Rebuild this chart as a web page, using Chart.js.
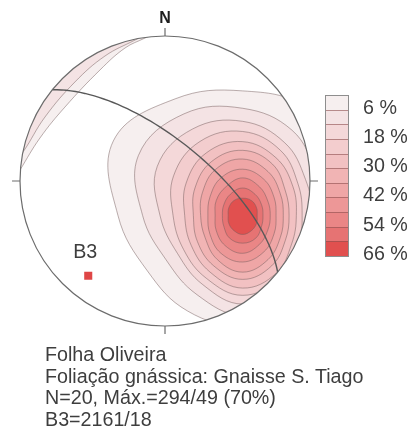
<!DOCTYPE html>
<html>
<head>
<meta charset="utf-8">
<script src="https://cdn.jsdelivr.net/npm/chart.js@4.4.1/dist/chart.umd.min.js"></script>
<style>
  body { margin: 0; background: #fff; }
  #wrap { position: relative; width: 412px; height: 433px; font-family: "Liberation Sans", Arial, sans-serif; color: #3e3e3e; }
  #net { position: absolute; left: 0; top: 0; }
  #legbox { position: absolute; left: 325px; top: 95px; width: 24px; height: 162px; box-sizing: border-box;
            border: 1px solid #8e8e8e; display: flex; flex-direction: column; }
  #legbox div { flex: 1; }
  #legbox div.sep { border-top: 1px solid rgba(140, 80, 80, 0.6); }
  .leglbl { position: absolute; left: 363px; font-size: 19.7px; line-height: 22px; white-space: nowrap; }
  #caption { position: absolute; left: 45px; top: 344px; font-size: 19.7px; line-height: 21.7px; white-space: nowrap; }
</style>
</head>
<body>
<div id="wrap">
  <canvas id="net" width="412" height="433"></canvas>
  <div id="legbox"></div>
  <div id="caption">Folha Oliveira<br>Foliação gnássica: Gnaisse S. Tiago<br>N=20, Máx.=294/49 (70%)<br>B3=2161/18</div>
</div>
<script>
// Contour levels (% por 1% de area) e cores da escala
const levels = [6, 12, 18, 24, 30, 36, 42, 48, 54, 60, 66];
const levelColors = ["#f6efef", "#f4e3e4", "#f4d8d9", "#f3cdce", "#f2c1c2", "#f1b4b4",
                     "#efa6a6", "#ed9797", "#ea8686", "#e67373", "#e1504f"];
const legendLabels = ["6 %", "18 %", "30 %", "42 %", "54 %", "66 %"];

const maxDipDir = 294, maxDip = 49;
const girdleDipDir = 39, girdleDip = 67;
const b3Trend = 219, b3Plunge = 17;

// Raio de cada contorno (em % do raio da rede) em torno do maximo, a cada 30 graus (0 = E, anti-horario)
const contourAngles = [0, 30, 60, 90, 120, 150, 180, 210, 240, 270, 300, 330];
const r06 = [69, 76, 86, 86, 93, 103, 86, 76, 76, 76, 76, 69];
const r12 = [62, 59, 68, 74, 81, 83, 69, 61, 63, 69, 66, 59];
const r18 = [48, 50, 58, 65, 69, 68, 57, 52, 55, 61, 55, 50];
const r24 = [41, 44, 52, 58, 59, 55, 48, 47, 50, 55, 50, 44];
const r30 = [37, 40, 46, 51, 50, 45, 40, 41, 45, 50, 46, 39];
const r36 = [32, 34, 41, 45, 43, 38, 34, 36, 40, 44, 40, 34];
const r42 = [28, 30, 35, 39, 37, 32, 29, 30, 35, 39, 35, 30];
const r48 = [23, 25, 29, 32, 30, 26, 24, 26, 30, 32, 29, 25];
const r54 = [19, 20, 23, 26, 23, 21, 19, 21, 24, 26, 23, 20];
const r60 = [14, 15, 17, 19, 17, 15, 14, 15, 18, 19, 18, 15];
const r66 = [10, 11, 12, 12, 12, 11, 10, 11, 12, 13, 12, 11];

// Parte dos contornos 6% e 12% que reaparece no lado NW (coordenadas da rede, raio = 1)
const band06 = [[-1.14, -0.15], [-1.0, 0.076], [-0.862, 0.297], [-0.69, 0.51], [-0.448, 0.766],
                [-0.276, 0.917], [-0.138, 0.986], [0.07, 1.09], [-1.3, 1.3]];
const band12 = [[-1.12, 0.02], [-0.979, 0.2], [-0.828, 0.441], [-0.621, 0.683], [-0.414, 0.862],
                [-0.207, 0.972], [0.0, 1.08], [-1.3, 1.3]];

const D = Math.PI / 180;

// Schmidt (area igual), hemisferio inferior
function project(trend, plunge) {
  const r = Math.sqrt(1 - Math.sin(plunge * D));
  return { x: r * Math.sin(trend * D), y: r * Math.cos(trend * D) };
}

const maxPole = project(maxDipDir - 180, 90 - maxDip);

function contourPoints(radii) {
  return radii.map((r, i) => ({
    x: maxPole.x + (r / 100) * Math.cos(contourAngles[i] * D),
    y: maxPole.y + (r / 100) * Math.sin(contourAngles[i] * D),
  }));
}

function greatCircle(dipDir, dip) {
  const sE = Math.sin((dipDir - 90) * D), sN = Math.cos((dipDir - 90) * D);
  const dE = Math.sin(dipDir * D) * Math.cos(dip * D);
  const dN = Math.cos(dipDir * D) * Math.cos(dip * D);
  const dD = Math.sin(dip * D);
  const pts = [];
  for (let t = 0; t <= 180; t += 3) {
    const c = Math.cos(t * D), s = Math.sin(t * D);
    const e = c * sE + s * dE, n = c * sN + s * dN, d = s * dD;
    const h = Math.hypot(e, n) || 1;
    const r = Math.sqrt(Math.max(0, 1 - d));
    pts.push({ x: (r * e) / h, y: (r * n) / h });
  }
  return pts;
}

const lineColor = "rgba(120, 95, 95, 0.5)";

const contourSets = [r06, r12, r18, r24, r30, r36, r42, r48, r54, r60, r66].map((radii, k) => ({
  label: levels[k] + " %",
  data: contourPoints(radii),
  closed: true,
  showLine: true,
  fill: "shape",
  backgroundColor: levelColors[k],
  borderColor: lineColor,
  borderWidth: 1,
  pointRadius: 0,
  tension: 0.4,
  order: 100 - k,
}));

const bandSets = [[band06, 0], [band12, 1]].map(([pts, k]) => ({
  label: "borda " + levels[k] + " %",
  data: pts.map(([x, y]) => ({ x, y })),
  closed: true,
  showLine: true,
  fill: "shape",
  backgroundColor: levelColors[k],
  borderColor: lineColor,
  borderWidth: 1,
  pointRadius: 0,
  tension: 0.4,
  order: 102 - k,
}));

const b3 = project(b3Trend, b3Plunge);

const datasets = [
  {
    label: "B3",
    data: [b3],
    pointStyle: "rect",
    pointRadius: 5.7,
    pointBackgroundColor: "#df4646",
    pointBorderWidth: 0,
    order: 0,
  },
  {
    label: "girdle",
    data: greatCircle(girdleDipDir, girdleDip),
    showLine: true,
    borderColor: "#595959",
    borderWidth: 1.4,
    pointRadius: 0,
    tension: 0,
    order: 1,
  },
  ...contourSets,
  ...bandSets,
];

function netGeometry(chart) {
  const x = chart.scales.x, y = chart.scales.y;
  const cx = x.getPixelForValue(0), cy = y.getPixelForValue(0);
  return { cx, cy, r: x.getPixelForValue(1) - cx };
}

const stereonetPlugin = {
  id: "stereonet",
  afterDatasetUpdate(chart, args) {
    const ds = chart.data.datasets[args.index];
    if (!ds.closed) return;
    // contornos fechados: mesma logica do radar
    const line = args.meta.dataset;
    line._loop = true;
    line._fullLoop = true;
    delete line._segments;
    line._pointsUpdated = false;
    line._path = undefined;
  },
  beforeDatasetsDraw(chart) {
    const { ctx } = chart;
    const g = netGeometry(chart);
    ctx.save();
    ctx.beginPath();
    ctx.arc(g.cx, g.cy, g.r, 0, 2 * Math.PI);
    ctx.clip();
  },
  afterDatasetsDraw(chart) {
    const { ctx } = chart;
    ctx.restore();
    const g = netGeometry(chart);
    ctx.save();
    ctx.strokeStyle = "#6c6c6c";
    ctx.lineWidth = 1.2;
    ctx.beginPath();
    ctx.arc(g.cx, g.cy, g.r, 0, 2 * Math.PI);
    ctx.stroke();

    const t = g.r * 0.055;
    ctx.beginPath();
    ctx.moveTo(g.cx, g.cy - g.r); ctx.lineTo(g.cx, g.cy - g.r - t);
    ctx.moveTo(g.cx, g.cy + g.r); ctx.lineTo(g.cx, g.cy + g.r + t);
    ctx.moveTo(g.cx - g.r, g.cy); ctx.lineTo(g.cx - g.r - t, g.cy);
    ctx.moveTo(g.cx + g.r, g.cy); ctx.lineTo(g.cx + g.r + t, g.cy);
    ctx.stroke();

    ctx.fillStyle = "#1e1e1e";
    ctx.font = 'bold 16px "Liberation Sans", Arial, sans-serif';
    ctx.textAlign = "center";
    ctx.textBaseline = "middle";
    ctx.fillText("N", g.cx, g.cy - g.r - 17);

    const p = chart.getDatasetMeta(0).data[0];
    ctx.fillStyle = "#3e3e3e";
    ctx.font = '19.7px "Liberation Sans", Arial, sans-serif';
    ctx.fillText("B3", p.x - 3, p.y - 23);
    ctx.restore();
  },
};

new Chart(document.getElementById("net").getContext("2d"), {
  type: "scatter",
  data: { datasets },
  options: {
    responsive: false,
    animation: false,
    events: [],
    layout: { padding: { left: 20, top: 36, right: 102, bottom: 107 } },
    scales: {
      x: { type: "linear", min: -1, max: 1, display: false },
      y: { type: "linear", min: -1, max: 1, display: false },
    },
    elements: { line: { capBezierPoints: false } },
    plugins: { legend: { display: false }, tooltip: { enabled: false } },
  },
  plugins: [stereonetPlugin],
});

// escala de cores
const legBox = document.getElementById("legbox");
levelColors.forEach((c, i) => {
  const d = document.createElement("div");
  d.style.background = c;
  if (i) d.className = "sep";
  legBox.appendChild(d);
});
const wrap = document.getElementById("wrap");
legendLabels.forEach((txt, i) => {
  const d = document.createElement("div");
  d.className = "leglbl";
  d.textContent = txt;
  d.style.top = (95.5 + 29.3 * i) + "px";
  wrap.appendChild(d);
});
</script>
</body>
</html>
